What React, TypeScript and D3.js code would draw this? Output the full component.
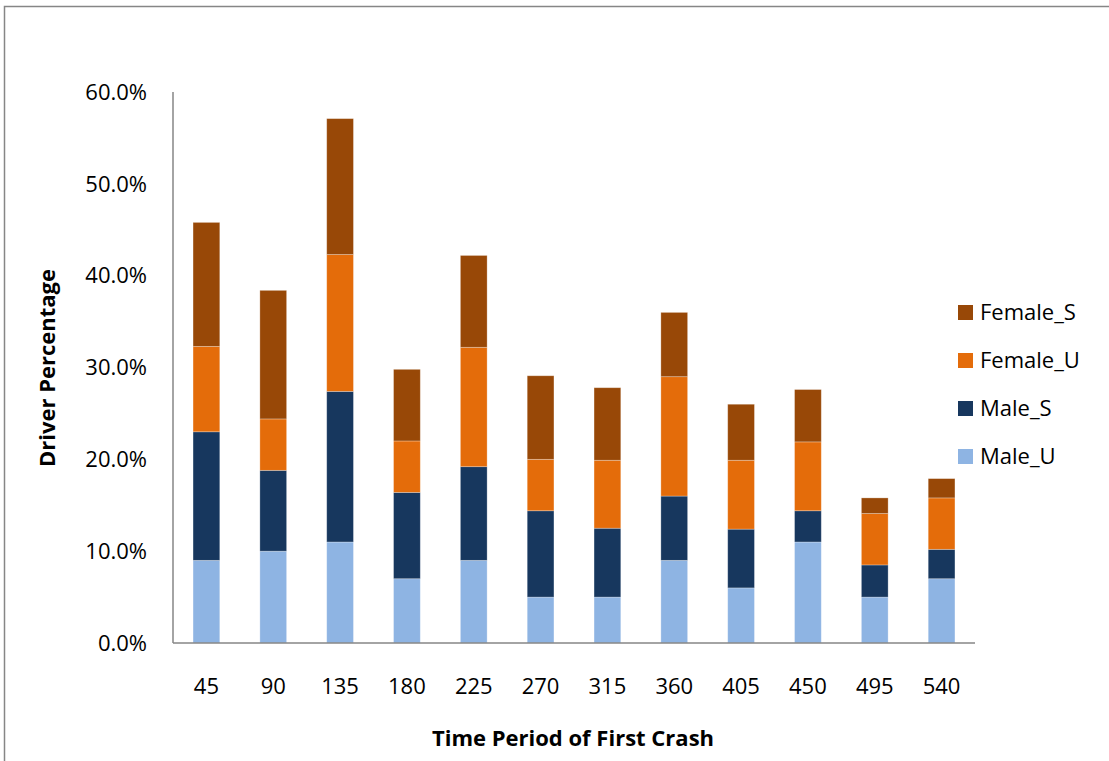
import React from "react";
import * as d3 from "d3";

const categories = ["45", "90", "135", "180", "225", "270", "315", "360", "405", "450", "495", "540"];
const seriesNames = ["Male_U", "Male_S", "Female_U", "Female_S"];
const maleU = [9.0, 10.0, 11.0, 7.0, 9.0, 5.0, 5.0, 9.0, 6.0, 11.0, 5.0, 7.0];
const maleS = [14.0, 8.8, 16.4, 9.4, 10.2, 9.4, 7.5, 7.0, 6.4, 3.4, 3.5, 3.2];
const femaleU = [9.3, 5.6, 14.9, 5.6, 13.0, 5.6, 7.4, 13.0, 7.5, 7.5, 5.6, 5.6];
const femaleS = [13.5, 14.0, 14.8, 7.8, 10.0, 9.1, 7.9, 7.0, 6.1, 5.7, 1.7, 2.1];
const yTicks = [0, 10, 20, 30, 40, 50, 60];
const colors: Record<string, string> = {
  Male_U: "#8EB4E3",
  Male_S: "#17375E",
  Female_U: "#E46C0A",
  Female_S: "#984807",
};

export default function App() {
  const W = 1109, H = 761;
  const left = 173, right = 975, top = 92, bottom = 643;
  const rows = categories.map((c, i) => ({
    cat: c,
    Male_U: maleU[i],
    Male_S: maleS[i],
    Female_U: femaleU[i],
    Female_S: femaleS[i],
  }));
  const stack = d3.stack<any>().keys(seriesNames)(rows);
  const x = d3.scaleBand().domain(categories).range([left, right]).paddingInner(0.6).paddingOuter(0.3);
  const y = d3.scaleLinear().domain([0, 60]).range([bottom, top]);
  const font = "Open Sans, Noto Sans, sans-serif";
  const fs = 22;
  const legendOrder = ["Female_S", "Female_U", "Male_S", "Male_U"];

  return (
    <svg width={W} height={H} style={{ position: "absolute", left: 0, top: 0, background: "#fff" }}>
      <rect x={4.5} y={6.5} width={1300} height={1000} fill="none" stroke="#868686" strokeWidth={1.5} />
      {stack.map((s) => (
        <g key={s.key} fill={colors[s.key]}>
          {s.map((d, i) => (
            <rect
              key={i}
              x={x(categories[i])}
              y={y(d[1])}
              width={x.bandwidth()}
              height={y(d[0]) - y(d[1])}
              stroke="rgba(255,255,255,0.35)"
              strokeWidth={0.8}
            />
          ))}
        </g>
      ))}
      <line x1={left} x2={left} y1={top} y2={bottom} stroke="#868686" strokeWidth={1.5} />
      <line x1={left} x2={right} y1={bottom} y2={bottom} stroke="#868686" strokeWidth={1.5} />
      {yTicks.map((t) => (
        <text key={t} x={147} y={y(t)} dy="0.35em" textAnchor="end" fontFamily={font} fontSize={fs} fill="#000">
          {t.toFixed(1) + "%"}
        </text>
      ))}
      {categories.map((c) => (
        <text key={c} x={(x(c) as number) + x.bandwidth() / 2} y={686} dy="0.35em" textAnchor="middle" fontFamily={font} fontSize={fs} fill="#000">
          {c}
        </text>
      ))}
      <text x={573} y={738} dy="0.35em" textAnchor="middle" fontFamily={font} fontSize={fs} fontWeight="bold" fill="#000">
        Time Period of First Crash
      </text>
      <text transform={`translate(47,368) rotate(-90)`} dy="0.35em" textAnchor="middle" fontFamily={font} fontSize={fs} fontWeight="bold" fill="#000">
        Driver Percentage
      </text>
      {legendOrder.map((k, i) => (
        <g key={k} transform={`translate(958,${305 + i * 48})`}>
          <rect width={15} height={15} fill={colors[k]} />
          <text x={22} y={7.5} dy="0.35em" fontFamily={font} fontSize={fs} fill="#000">
            {k}
          </text>
        </g>
      ))}
    </svg>
  );
}
